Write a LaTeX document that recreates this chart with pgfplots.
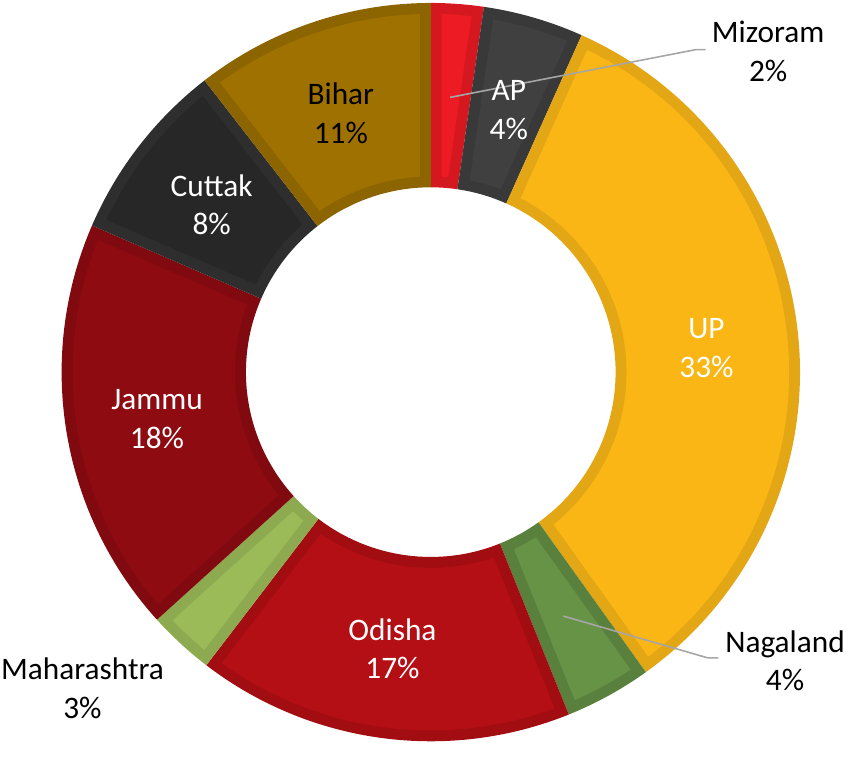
\documentclass[border=0pt]{standalone}
\usepackage{pgfplots}
\pgfplotsset{compat=1.18}
\usepackage{pgfplotstable}
\usepackage{fontspec}
\setmainfont{Carlito}

\definecolor{cMiz}{HTML}{ED1C24}\definecolor{bMiz}{HTML}{D5171F}
\definecolor{cAP}{HTML}{404040}\definecolor{bAP}{HTML}{393939}
\definecolor{cUP}{HTML}{F9B614}\definecolor{bUP}{HTML}{E3A614}
\definecolor{cNag}{HTML}{669346}\definecolor{bNag}{HTML}{5A803D}
\definecolor{cOdi}{HTML}{B40F15}\definecolor{bOdi}{HTML}{A20D12}
\definecolor{cMah}{HTML}{9BBB59}\definecolor{bMah}{HTML}{8DAA50}
\definecolor{cJam}{HTML}{8E0B11}\definecolor{bJam}{HTML}{800A0F}
\definecolor{cCut}{HTML}{272727}\definecolor{bCut}{HTML}{2E2E2E}
\definecolor{cBih}{HTML}{9E7100}\definecolor{bBih}{HTML}{8C6400}

% share of each state, clockwise from the top
\pgfplotstableread{
name        value fillc borderc
Mizoram     2.3   cMiz  bMiz
AP          4.4   cAP   bAP
UP          33.4  cUP   bUP
Nagaland    3.8   cNag  bNag
Odisha      16.5  cOdi  bOdi
Maharashtra 2.9   cMah  bMah
Jammu       18.2  cJam  bJam
Cuttak      8.0   cCut  bCut
Bihar       10.5  cBih  bBih
}\datatable

\def\cx{433.5}\def\cy{374.5}
\def\Ro{371.5}\def\Ri{186}\def\bw{11}
\pgfmathsetmacro\Rw{\Ro-\bw}
\pgfmathsetmacro\rw{\Ri+\bw}
\pgfmathsetmacro\dout{asin(\bw/\Rw)}
\pgfmathsetmacro\din{asin(\bw/\rw)}

\newcommand\donutslice[4]{%
  \fill[#4] ({\cx+\Ro*cos(#1)},{\cy+\Ro*sin(#1)}) arc[start angle=#1,end angle=#2,radius=\Ro pt]
     -- ({\cx+\Ri*cos(#2)},{\cy+\Ri*sin(#2)}) arc[start angle=#2,end angle=#1,radius=\Ri pt] -- cycle;
  \fill[#3] ({\cx+\Rw*cos(#1-\dout)},{\cy+\Rw*sin(#1-\dout)}) arc[start angle=#1-\dout,end angle=#2+\dout,radius=\Rw pt]
     -- ({\cx+\rw*cos(#2+\din)},{\cy+\rw*sin(#2+\din)}) arc[start angle=#2+\din,end angle=#1-\din,radius=\rw pt] -- cycle;
}

\begin{document}
\begin{tikzpicture}
\begin{axis}[x=1pt,y=1pt,xmin=0,xmax=851,ymin=0,ymax=749,
  hide axis,clip=false,disabledatascaling]
\path (0,0) -- (851,749);
\xdef\cum{0}
\pgfplotsinvokeforeach{0,...,8}{%
  \pgfplotstablegetelem{#1}{value}\of\datatable \let\v\pgfplotsretval
  \pgfplotstablegetelem{#1}{fillc}\of\datatable \let\fc\pgfplotsretval
  \pgfplotstablegetelem{#1}{borderc}\of\datatable \let\bc\pgfplotsretval
  \pgfmathsetmacro\aone{90-3.6*\cum}%
  \pgfmathsetmacro\tmpc{\cum+\v}\xdef\cum{\tmpc}%
  \pgfmathsetmacro\atwo{90-3.6*\cum}%
  \edef\tmp{\noexpand\donutslice{\aone}{\atwo}{\fc}{\bc}}\tmp
}
\draw[black!35,line width=1.6pt] (453,651) -- (700,699) -- (710,699);
\draw[black!35,line width=1.6pt] (567,129) -- (712,87) -- (723,87);
\tikzset{lab/.style={align=center,inner sep=0pt,font=\fontsize{31.5}{39}\selectfont}}
\node[lab] at (773,697) {Mizoram\\2\%};
\node[lab,text=white] at (512,638) {AP\\4\%};
\node[lab,text=white] at (711,399) {UP\\33\%};
\node[lab] at (790,84) {Nagaland\\4\%};
\node[lab,text=white] at (395,96) {Odisha\\17\%};
\node[lab] at (83,56) {Maharashtra\\3\%};
\node[lab,text=white] at (158,327) {Jammu\\18\%};
\node[lab,text=white] at (213,543) {Cuttak\\8\%};
\node[lab] at (343,635) {Bihar\\11\%};
\end{axis}
\end{tikzpicture}
\end{document}
